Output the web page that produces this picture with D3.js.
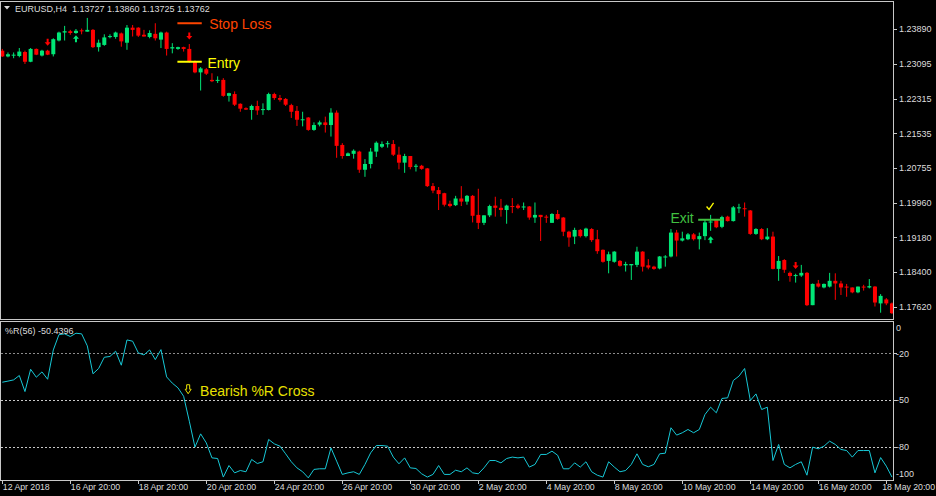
<!DOCTYPE html>
<html>
<head>
<meta charset="utf-8">
<script src="https://cdn.jsdelivr.net/npm/d3@7"></script>
<style>
  html, body { margin: 0; padding: 0; background: #000; }
  #chart { width: 936px; height: 496px; }
  svg { display: block; font-family: "Liberation Sans", Arial, sans-serif; }
</style>
</head>
<body>
<div id="chart"></div>
<script>
// EURUSD H4 bars, 12 Apr 20:00 .. 18 May 2018
const opens = [1.2340,1.2327,1.2330,1.2328,1.2337,1.2315,1.2344,1.2329,1.2340,1.2332,
  1.2363,1.2381,1.2384,1.2380,1.2386,1.2383,1.2387,1.2348,1.2353,1.2371,
  1.2371,1.2379,1.2358,1.2392,1.2392,1.2376,1.2371,1.2378,1.2365,1.2381,
  1.2345,1.2344,1.2348,1.2344,1.2315,1.2291,1.2298,1.2274,1.2272,1.2274,
  1.2238,1.2242,1.2220,1.2210,1.2206,1.2215,1.2206,1.2206,1.2242,1.2233,
  1.2231,1.2217,1.2204,1.2184,1.2189,1.2161,1.2173,1.2178,1.2172,1.2200,
  1.2127,1.2102,1.2107,1.2112,1.2071,1.2084,1.2112,1.2123,1.2129,1.2129,
  1.2105,1.2087,1.2102,1.2078,1.2080,1.2074,1.2034,1.2025,1.2018,1.1994,
  1.1991,1.2006,1.1999,1.2012,1.1969,1.1951,1.1968,1.1990,1.1985,1.1980,
  1.1989,1.1990,1.1986,1.1988,1.1963,1.1969,1.1965,1.1951,1.1971,1.1963,
  1.1931,1.1920,1.1935,1.1921,1.1937,1.1914,1.1890,1.1865,1.1863,1.1865,
  1.1855,1.1855,1.1856,1.1886,1.1855,1.1852,1.1848,1.1873,1.1875,1.1929,
  1.1911,1.1914,1.1925,1.1914,1.1921,1.1952,1.1958,1.1942,1.1965,1.1955,
  1.1985,1.1984,1.1979,1.1926,1.1937,1.1914,1.1920,1.1847,1.1867,1.1838,
  1.1832,1.1832,1.1838,1.1765,1.1814,1.1805,1.1807,1.1820,1.1814,1.1807,
  1.1805,1.1794,1.1807,1.1805,1.1807,1.1769,1.1778,1.1769];
const highs = [1.2344,1.2336,1.2336,1.2346,1.2340,1.2346,1.2345,1.2342,1.2342,1.2368,
  1.2383,1.2396,1.2387,1.2389,1.2390,1.2414,1.2389,1.2365,1.2377,1.2377,
  1.2383,1.2381,1.2398,1.2398,1.2393,1.2387,1.2386,1.2402,1.2383,1.2383,
  1.2357,1.2349,1.2349,1.2355,1.2318,1.2303,1.2301,1.2289,1.2282,1.2278,
  1.2245,1.2248,1.2221,1.2212,1.2218,1.2227,1.2221,1.2245,1.2245,1.2240,
  1.2233,1.2220,1.2215,1.2202,1.2190,1.2178,1.2182,1.2191,1.2210,1.2205,
  1.2131,1.2110,1.2117,1.2114,1.2095,1.2120,1.2135,1.2135,1.2136,1.2138,
  1.2123,1.2107,1.2102,1.2084,1.2082,1.2075,1.2041,1.2032,1.2019,1.2001,
  1.2012,1.2034,1.2014,1.2014,1.2028,1.1968,1.1992,1.2010,1.2005,1.1992,
  1.2007,1.1994,1.1997,1.1989,1.1997,1.1969,1.1969,1.1973,1.1980,1.1964,
  1.1933,1.1940,1.1937,1.1940,1.1939,1.1935,1.1891,1.1886,1.1887,1.1867,
  1.1863,1.1858,1.1897,1.1887,1.1869,1.1854,1.1876,1.1878,1.1937,1.1935,
  1.1931,1.1928,1.1928,1.1929,1.1959,1.1969,1.1959,1.1967,1.1967,1.1989,
  1.1994,1.1997,1.1980,1.1939,1.1939,1.1939,1.1931,1.1876,1.1869,1.1841,
  1.1836,1.1856,1.1840,1.1814,1.1822,1.1814,1.1838,1.1837,1.1820,1.1813,
  1.1805,1.1807,1.1811,1.1824,1.1808,1.1790,1.1781,1.1771];
const lows = [1.2326,1.2325,1.2323,1.2325,1.2310,1.2314,1.2330,1.2327,1.2330,1.2327,
  1.2361,1.2363,1.2376,1.2378,1.2377,1.2383,1.2346,1.2338,1.2351,1.2368,
  1.2367,1.2349,1.2342,1.2372,1.2371,1.2372,1.2368,1.2363,1.2346,1.2329,
  1.2334,1.2342,1.2338,1.2313,1.2289,1.2250,1.2285,1.2269,1.2267,1.2236,
  1.2225,1.2215,1.2202,1.2206,1.2184,1.2195,1.2195,1.2205,1.2229,1.2225,
  1.2215,1.2188,1.2170,1.2169,1.2159,1.2159,1.2169,1.2155,1.2146,1.2098,
  1.2096,1.2102,1.2096,1.2064,1.2055,1.2074,1.2100,1.2120,1.2121,1.2102,
  1.2072,1.2064,1.2072,1.2067,1.2071,1.2032,1.2018,1.1980,1.1988,1.1986,
  1.1989,1.1989,1.1992,1.1952,1.1937,1.1946,1.1964,1.1965,1.1965,1.1949,
  1.1973,1.1982,1.1980,1.1958,1.1951,1.1910,1.1951,1.1951,1.1958,1.1921,
  1.1897,1.1903,1.1918,1.1918,1.1908,1.1881,1.1861,1.1837,1.1861,1.1852,
  1.1841,1.1822,1.1851,1.1841,1.1846,1.1845,1.1846,1.1852,1.1873,1.1875,
  1.1909,1.1912,1.1911,1.1891,1.1912,1.1933,1.1939,1.1939,1.1954,1.1954,
  1.1973,1.1965,1.1924,1.1924,1.1912,1.1912,1.1846,1.1820,1.1838,1.1818,
  1.1816,1.1829,1.1763,1.1765,1.1805,1.1803,1.1805,1.1777,1.1788,1.1784,
  1.1792,1.1792,1.1798,1.1803,1.1762,1.1748,1.1765,1.1745];
const closes = [1.2327,1.2332,1.2331,1.2338,1.2315,1.2344,1.2331,1.2340,1.2331,1.2366,
  1.2381,1.2384,1.2380,1.2385,1.2384,1.2387,1.2348,1.2358,1.2370,1.2373,
  1.2381,1.2361,1.2392,1.2387,1.2374,1.2372,1.2380,1.2368,1.2381,1.2344,
  1.2348,1.2348,1.2344,1.2315,1.2291,1.2300,1.2288,1.2271,1.2274,1.2238,
  1.2244,1.2218,1.2209,1.2207,1.2215,1.2205,1.2208,1.2242,1.2233,1.2229,
  1.2218,1.2202,1.2184,1.2185,1.2161,1.2172,1.2178,1.2172,1.2200,1.2125,
  1.2102,1.2108,1.2114,1.2071,1.2084,1.2112,1.2132,1.2129,1.2131,1.2105,
  1.2087,1.2102,1.2077,1.2080,1.2073,1.2034,1.2024,1.2016,1.1992,1.1989,
  1.2006,1.1999,1.2012,1.1967,1.1951,1.1968,1.1989,1.1985,1.1980,1.1990,
  1.1988,1.1985,1.1988,1.1963,1.1969,1.1964,1.1964,1.1971,1.1960,1.1931,
  1.1918,1.1935,1.1921,1.1938,1.1912,1.1887,1.1863,1.1880,1.1886,1.1854,
  1.1858,1.1858,1.1886,1.1852,1.1850,1.1847,1.1875,1.1875,1.1929,1.1911,
  1.1916,1.1925,1.1914,1.1921,1.1952,1.1954,1.1941,1.1964,1.1955,1.1986,
  1.1986,1.1982,1.1926,1.1937,1.1914,1.1920,1.1847,1.1865,1.1845,1.1831,
  1.1833,1.1838,1.1765,1.1813,1.1807,1.1813,1.1820,1.1814,1.1805,1.1805,
  1.1794,1.1807,1.1805,1.1808,1.1771,1.1786,1.1769,1.1747];

// Williams %R(56), one value per bar
const wpr = [-38.6,-37.9,-37.1,-34.3,-44.6,-30.3,-35.4,-32.0,-36.7,-17.9,
  -8.1,-7.6,-9.3,-7.2,-7.6,-15.3,-33.2,-29.8,-22.6,-22.1,
  -18.7,-27.7,-11.5,-12.3,-19.8,-21.1,-17.9,-24.1,-17.7,-35.2,
  -39.2,-42.2,-47.6,-63.6,-80.2,-71.7,-77.5,-87.1,-87.5,-99.4,
  -92.0,-96.7,-95.2,-96.0,-88.1,-90.7,-89.6,-75.3,-78.1,-79.6,
  -84.5,-89.6,-93.5,-96.0,-99.9,-94.5,-94.1,-94.1,-80.7,-89.2,
  -97.7,-96.7,-96.0,-97.7,-91.3,-83.9,-79.2,-79.2,-79.6,-86.6,
  -90.9,-87.1,-93.5,-93.9,-97.3,-99.4,-97.7,-92.0,-97.7,-97.7,
  -95.0,-96.0,-93.5,-96.7,-97.3,-93.5,-88.8,-88.8,-90.3,-87.5,
  -86.6,-87.1,-86.6,-93.0,-91.3,-84.9,-84.9,-82.8,-85.4,-94.1,
  -94.1,-90.3,-93.0,-89.6,-96.0,-98.2,-99.4,-89.6,-93.0,-96.0,
  -95.2,-91.3,-84.5,-91.3,-92.8,-91.3,-84.5,-84.1,-67.8,-72.5,
  -71.0,-68.9,-71.0,-68.9,-59.3,-54.6,-58.2,-49.0,-48.6,-37.5,
  -34.7,-29.8,-50.3,-46.1,-56.1,-54.6,-88.8,-78.5,-91.3,-93.5,
  -91.3,-89.6,-98.2,-80.2,-81.3,-79.6,-76.4,-78.5,-81.7,-82.4,
  -86.6,-82.4,-82.4,-82.4,-96.7,-86.9,-92.4,-99.4];

// axis labels
const priceTicks = [1.23890, 1.23095, 1.22315, 1.21535, 1.20755, 1.19960, 1.19180, 1.18400, 1.17620];
const timeLabels = ["12 Apr 2018","16 Apr 20:00","18 Apr 20:00","20 Apr 20:00","24 Apr 20:00",
  "26 Apr 20:00","30 Apr 20:00","2 May 20:00","4 May 20:00","8 May 20:00",
  "10 May 20:00","14 May 20:00","16 May 20:00","18 May 20:00"];
const timeBars = [0,12,24,36,48,60,72,84,96,108,120,132,144,156];
const wprLevels = [-20, -50, -80];
const wprLabels = [0, -20, -50, -80, -100];

// trade annotations (bar index / price)
const tradeLines = [
  {label: "Stop Loss", from: 30.9, to: 35.2, price: 1.2402, textBar: 36.5, textPrice: 1.2388, color: "#ff4500"},
  {label: "Entry",     from: 30.9, to: 35.2, price: 1.2315, textBar: 36.2, textPrice: 1.2301, color: "#ffff00"},
  {label: "Exit",      from: 122.8, to: 127.2, price: 1.1958, textBar: 117.9, textPrice: 1.1950, color: "#40c040"}
];
const signalArrows = [
  {bar: 8,   price: 1.2351, dir: "down"},
  {bar: 13,  price: 1.2375, dir: "up"},
  {bar: 33,  price: 1.2365, dir: "down"},
  {bar: 125, price: 1.1921, dir: "up"},
  {bar: 140, price: 1.1847, dir: "down"}
];
const checkMark = {bar: 124.9, price: 1.1988};
const crossNote = {label: "Bearish %R Cross", iconBar: 32.8, iconValue: -43.1, textBar: 34.9, textValue: -47.4};

const width = 936, height = 496;
const frameColor = "#c8c8c8", textColor = "#dcdcdc";
const bullColor = "#00e676", bearColor = "#ff0000";

const svg = d3.select("#chart")
  .append("svg")
  .attr("width", width)
  .attr("height", height);

svg.append("rect").attr("width", width).attr("height", height).attr("fill", "#000");

// scales
const xScale = d3.scaleLinear().domain([0, 156]).range([2.3, 886.3]);
const yScale = d3.scaleLinear().domain([1.17620, 1.23890]).range([306.5, 29]);
const wScale = d3.scaleLinear().domain([0, -100]).range([322, 478]);

// panel frames
const mainPanel = {x0: 0.5, x1: 893.5, y0: 1.5, y1: 319.5};
const subPanel = {x0: 0.5, x1: 893.5, y0: 321.5, y1: 480.5};

const clip = svg.append("defs");
clip.append("clipPath").attr("id", "mainClip")
  .append("rect").attr("x", 1).attr("y", 2).attr("width", 892).attr("height", 317);
clip.append("clipPath").attr("id", "subClip")
  .append("rect").attr("x", 1).attr("y", 322).attr("width", 892).attr("height", 158);

// candles
const bars = d3.range(opens.length).map(i => ({
  i: i, o: opens[i], h: highs[i], l: lows[i], c: closes[i]
}));

const candles = svg.append("g").attr("clip-path", "url(#mainClip)");

candles.selectAll("line.wick")
  .data(bars)
  .enter()
  .append("line")
    .attr("class", "wick")
    .attr("x1", d => xScale(d.i))
    .attr("x2", d => xScale(d.i))
    .attr("y1", d => yScale(d.h))
    .attr("y2", d => yScale(d.l))
    .attr("stroke", d => d.c >= d.o ? bullColor : bearColor)
    .attr("stroke-width", 1);

candles.selectAll("rect.body")
  .data(bars)
  .enter()
  .append("rect")
    .attr("class", "body")
    .attr("x", d => xScale(d.i) - 2)
    .attr("width", 4)
    .attr("y", d => yScale(Math.max(d.o, d.c)))
    .attr("height", d => Math.max(1, Math.abs(yScale(d.o) - yScale(d.c))))
    .attr("fill", d => d.c >= d.o ? bullColor : bearColor);

// signal arrows
const arrowDown = "M-1,-7 H1 V-3.5 H3 L0,0 L-3,-3.5 H-1 Z";
const arrowUp = "M-1,7 H1 V3.5 H3 L0,0 L-3,3.5 H-1 Z";
candles.selectAll("path.sig")
  .data(signalArrows)
  .enter()
  .append("path")
    .attr("class", "sig")
    .attr("transform", d => `translate(${xScale(d.bar)},${yScale(d.price)})`)
    .attr("d", d => d.dir === "down" ? arrowDown : arrowUp)
    .attr("fill", d => d.dir === "down" ? bearColor : bullColor);

// trade lines + labels
candles.selectAll("line.trade")
  .data(tradeLines)
  .enter()
  .append("line")
    .attr("class", "trade")
    .attr("x1", d => xScale(d.from))
    .attr("x2", d => xScale(d.to))
    .attr("y1", d => yScale(d.price))
    .attr("y2", d => yScale(d.price))
    .attr("stroke", d => d.color)
    .attr("stroke-width", 2);

candles.selectAll("text.trade")
  .data(tradeLines)
  .enter()
  .append("text")
    .attr("class", "trade")
    .attr("x", d => xScale(d.textBar))
    .attr("y", d => yScale(d.textPrice))
    .attr("fill", d => d.color)
    .attr("font-size", 14)
    .text(d => d.label);

candles.append("path")
  .attr("transform", `translate(${xScale(checkMark.bar)},${yScale(checkMark.price)})`)
  .attr("d", "M-3.5,0 L-1,3 L3.5,-3.5")
  .attr("fill", "none")
  .attr("stroke", "#ffff00")
  .attr("stroke-width", 1.3);

// %R line and levels
const sub = svg.append("g").attr("clip-path", "url(#subClip)");

sub.selectAll("line.level")
  .data(wprLevels)
  .enter()
  .append("line")
    .attr("class", "level")
    .attr("x1", 1)
    .attr("x2", 893)
    .attr("y1", d => Math.round(wScale(d)) + 0.5)
    .attr("y2", d => Math.round(wScale(d)) + 0.5)
    .attr("stroke", d => d === -20 ? "#8c8c8c" : "#c8c8c8")
    .attr("stroke-dasharray", "2,2");

const wprLine = d3.line()
  .x((d, i) => xScale(i))
  .y(d => wScale(d));

sub.append("path")
  .datum(wpr)
  .attr("d", wprLine)
  .attr("fill", "none")
  .attr("stroke", "#17c8d6")
  .attr("stroke-width", 1);

sub.append("path")
  .attr("transform", `translate(${xScale(crossNote.iconBar)},${wScale(crossNote.iconValue)})`)
  .attr("d", "M-1.5,-4.5 H1.5 V0 H3 L0,4.5 L-3,0 H-1.5 Z")
  .attr("fill", "none")
  .attr("stroke", "#e8e000")
  .attr("stroke-width", 1);

sub.append("text")
  .attr("x", xScale(crossNote.textBar))
  .attr("y", wScale(crossNote.textValue))
  .attr("fill", "#e8e000")
  .attr("font-size", 14)
  .text(crossNote.label);

// frames
[mainPanel, subPanel].forEach(p => {
  svg.append("rect")
    .attr("x", p.x0).attr("y", p.y0)
    .attr("width", p.x1 - p.x0).attr("height", p.y1 - p.y0)
    .attr("fill", "none")
    .attr("stroke", frameColor);
});

// price axis
const priceAxis = svg.append("g").attr("class", "axis");
priceAxis.selectAll("line")
  .data(priceTicks)
  .enter()
  .append("line")
    .attr("x1", 893.5).attr("x2", 897)
    .attr("y1", d => Math.round(yScale(d)) + 0.5)
    .attr("y2", d => Math.round(yScale(d)) + 0.5)
    .attr("stroke", frameColor);
priceAxis.selectAll("text")
  .data(priceTicks)
  .enter()
  .append("text")
    .attr("x", 899)
    .attr("y", d => yScale(d) + 3.3)
    .attr("fill", textColor)
    .attr("font-size", 9)
    .text(d => d3.format(".5f")(d));

// %R axis
const wprAxis = svg.append("g");
wprAxis.selectAll("line")
  .data(wprLevels)
  .enter()
  .append("line")
    .attr("x1", 893.5).attr("x2", 897)
    .attr("y1", d => Math.round(wScale(d)) + 0.5)
    .attr("y2", d => Math.round(wScale(d)) + 0.5)
    .attr("stroke", frameColor);
wprAxis.selectAll("text")
  .data(wprLabels)
  .enter()
  .append("text")
    .attr("x", 896)
    .attr("y", d => Math.min(477, Math.max(331, wScale(d) + 3.3)))
    .attr("fill", textColor)
    .attr("font-size", 9)
    .text(d => d);

// time axis (last label kept inside the window)
const timeAxis = svg.append("g");
timeAxis.selectAll("line")
  .data(timeBars)
  .enter()
  .append("line")
    .attr("x1", d => Math.round(xScale(d)) + 0.5)
    .attr("x2", d => Math.round(xScale(d)) + 0.5)
    .attr("y1", 480.5).attr("y2", 484)
    .attr("stroke", frameColor);
timeAxis.selectAll("text")
  .data(timeBars)
  .enter()
  .append("text")
    .attr("x", (d, i) => i === timeBars.length - 1 ? width - 1 : xScale(d) + 0.5)
    .attr("text-anchor", (d, i) => i === timeBars.length - 1 ? "end" : "start")
    .attr("y", 490)
    .attr("fill", textColor)
    .attr("font-size", 8.8)
    .attr("letter-spacing", -0.05)
    .text((d, i) => timeLabels[i]);

// header texts
svg.append("path")
  .attr("d", "M4,6 H10 L7,9.5 Z")
  .attr("fill", textColor);
svg.append("text")
  .attr("x", 15).attr("y", 11.5)
  .attr("fill", textColor)
  .attr("font-size", 9)
  .attr("xml:space", "preserve")
  .text("EURUSD,H4  1.13727 1.13860 1.13725 1.13762");
svg.append("text")
  .attr("x", 5).attr("y", 334)
  .attr("fill", textColor)
  .attr("font-size", 9)
  .text("%R(56) -50.4396");
</script>
</body>
</html>
